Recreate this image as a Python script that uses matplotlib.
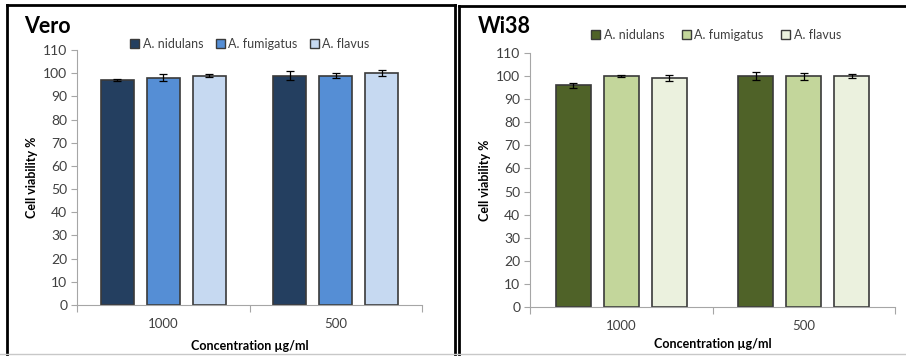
import matplotlib
matplotlib.use("Agg")
import matplotlib.pyplot as plt
from matplotlib.lines import Line2D
from matplotlib.patches import Patch
import numpy as np

plt.rcParams['font.family'] = ['Lato', 'DejaVu Sans']

concentrations = ["1000", "500"]
species = ["A. nidulans", "A. fumigatus", "A. flavus"]

vero_values = [[97, 99], [98, 99], [99, 100]]
vero_errors = [[0.5, 2.0], [1.5, 1.0], [0.8, 1.3]]
wi38_values = [[96, 100], [100, 100], [99, 100]]
wi38_errors = [[1.0, 1.8], [0.5, 1.5], [1.3, 0.8]]

vero_colors = ["#243F60", "#558ED5", "#C6D9F1"]
wi38_colors = ["#4F6228", "#C3D69B", "#EBF1DE"]

W, H = 906, 356
fig = plt.figure(figsize=(W / 100, H / 100), dpi=100)


def px_axes(x0, y_top, x1, y_bottom):
    return fig.add_axes([x0 / W, (H - y_bottom) / H, (x1 - x0) / W, (y_bottom - y_top) / H])


def draw_panel(ax, values, errors, colors, step, x0, x1, y_bottom, xlabel_y):
    x = np.arange(len(concentrations))
    for i, (vals, errs, col) in enumerate(zip(values, errors, colors)):
        ax.bar(x + (i - 1) * step, vals, width=0.19, color=col,
               edgecolor="#3a3a3a", linewidth=1.2, label=species[i], zorder=2)
        ax.errorbar(x + (i - 1) * step, vals, yerr=errs, fmt="none",
                    ecolor="black", elinewidth=0.9, capsize=3, capthick=0.9, zorder=3)
    ax.set_xlim(-0.5, len(concentrations) - 0.5)
    ax.set_ylim(0, 110)
    ax.set_yticks(np.arange(0, 111, 10))
    ax.set_xticks(x)
    ax.set_xticklabels(concentrations)
    ax.set_xticks(np.arange(-0.5, len(concentrations), 1), minor=True)
    ax.tick_params(axis="x", which="major", length=0, pad=9, labelsize=9.5, colors="#404040")
    ax.tick_params(axis="x", which="minor", length=5, width=0.8, color="#a6a6a6", direction="out")
    ax.tick_params(axis="y", length=4, width=0.8, color="#a6a6a6", labelsize=10,
                   labelcolor="#404040", pad=3)
    for s in ("top", "right"):
        ax.spines[s].set_visible(False)
    for s in ("left", "bottom"):
        ax.spines[s].set_color("#a6a6a6")
        ax.spines[s].set_linewidth(0.8)
    ax.set_ylabel("Cell viability %", fontsize=9, fontweight="bold")
    ax.yaxis.set_label_coords(-39 / (x1 - x0), 0.5)
    fig.text((x0 + x1) / 2 / W, (H - xlabel_y) / H, "Concentration µg/ml",
             fontsize=9, fontweight="bold", ha="center", va="center")
    handles = [Patch(facecolor=c, edgecolor="#3a3a3a", linewidth=1.0) for c in colors]
    return handles


ax1 = px_axes(77, 50, 422, 305)
h1 = draw_panel(ax1, vero_values, vero_errors, vero_colors, 0.267, 77, 422, 305, 346)
ax1.legend(h1, species, loc="center", bbox_to_anchor=(250 / W, (H - 44) / H),
           bbox_transform=fig.transFigure, ncol=3, frameon=False, fontsize=9,
           handlelength=0.7, handleheight=0.7, handletextpad=0.3, columnspacing=1.0,
           labelcolor="#404040")
fig.text(24 / W, (H - 33) / H, "Vero", fontsize=15.5, fontweight="bold", va="baseline", ha="left")

ax2 = px_axes(530, 53, 895, 307)
h2 = draw_panel(ax2, wi38_values, wi38_errors, wi38_colors, 0.263, 530, 895, 307, 344)
ax2.legend(h2, species, loc="center", bbox_to_anchor=(716 / W, (H - 35) / H),
           bbox_transform=fig.transFigure, ncol=3, frameon=False, fontsize=9,
           handlelength=0.7, handleheight=0.7, handletextpad=0.3, columnspacing=1.4,
           labelcolor="#404040")
fig.text(478 / W, (H - 33) / H, "Wi38", fontsize=15.5, fontweight="bold", va="baseline", ha="left")

# panel frames
frame = dict(transform=fig.transFigure, color="black", linewidth=2)
fig.add_artist(Line2D([6.5 / W, 6.5 / W], [(H - 5) / H, 0], **frame))
fig.add_artist(Line2D([6.5 / W, 455 / W], [(H - 5) / H, (H - 5) / H], **frame))
fig.add_artist(Line2D([455 / W, 455 / W], [(H - 5) / H, 0], **frame))
fig.add_artist(Line2D([459 / W, 459 / W], [(H - 6) / H, 0], **frame))
fig.add_artist(Line2D([459 / W, 1], [(H - 6) / H, (H - 6) / H], **frame))
fig.add_artist(Line2D([0, 1], [(H - 354) / H, (H - 354) / H], transform=fig.transFigure,
                      color="#c8c8c8", linewidth=1))

fig.savefig("out.png", dpi=100)
